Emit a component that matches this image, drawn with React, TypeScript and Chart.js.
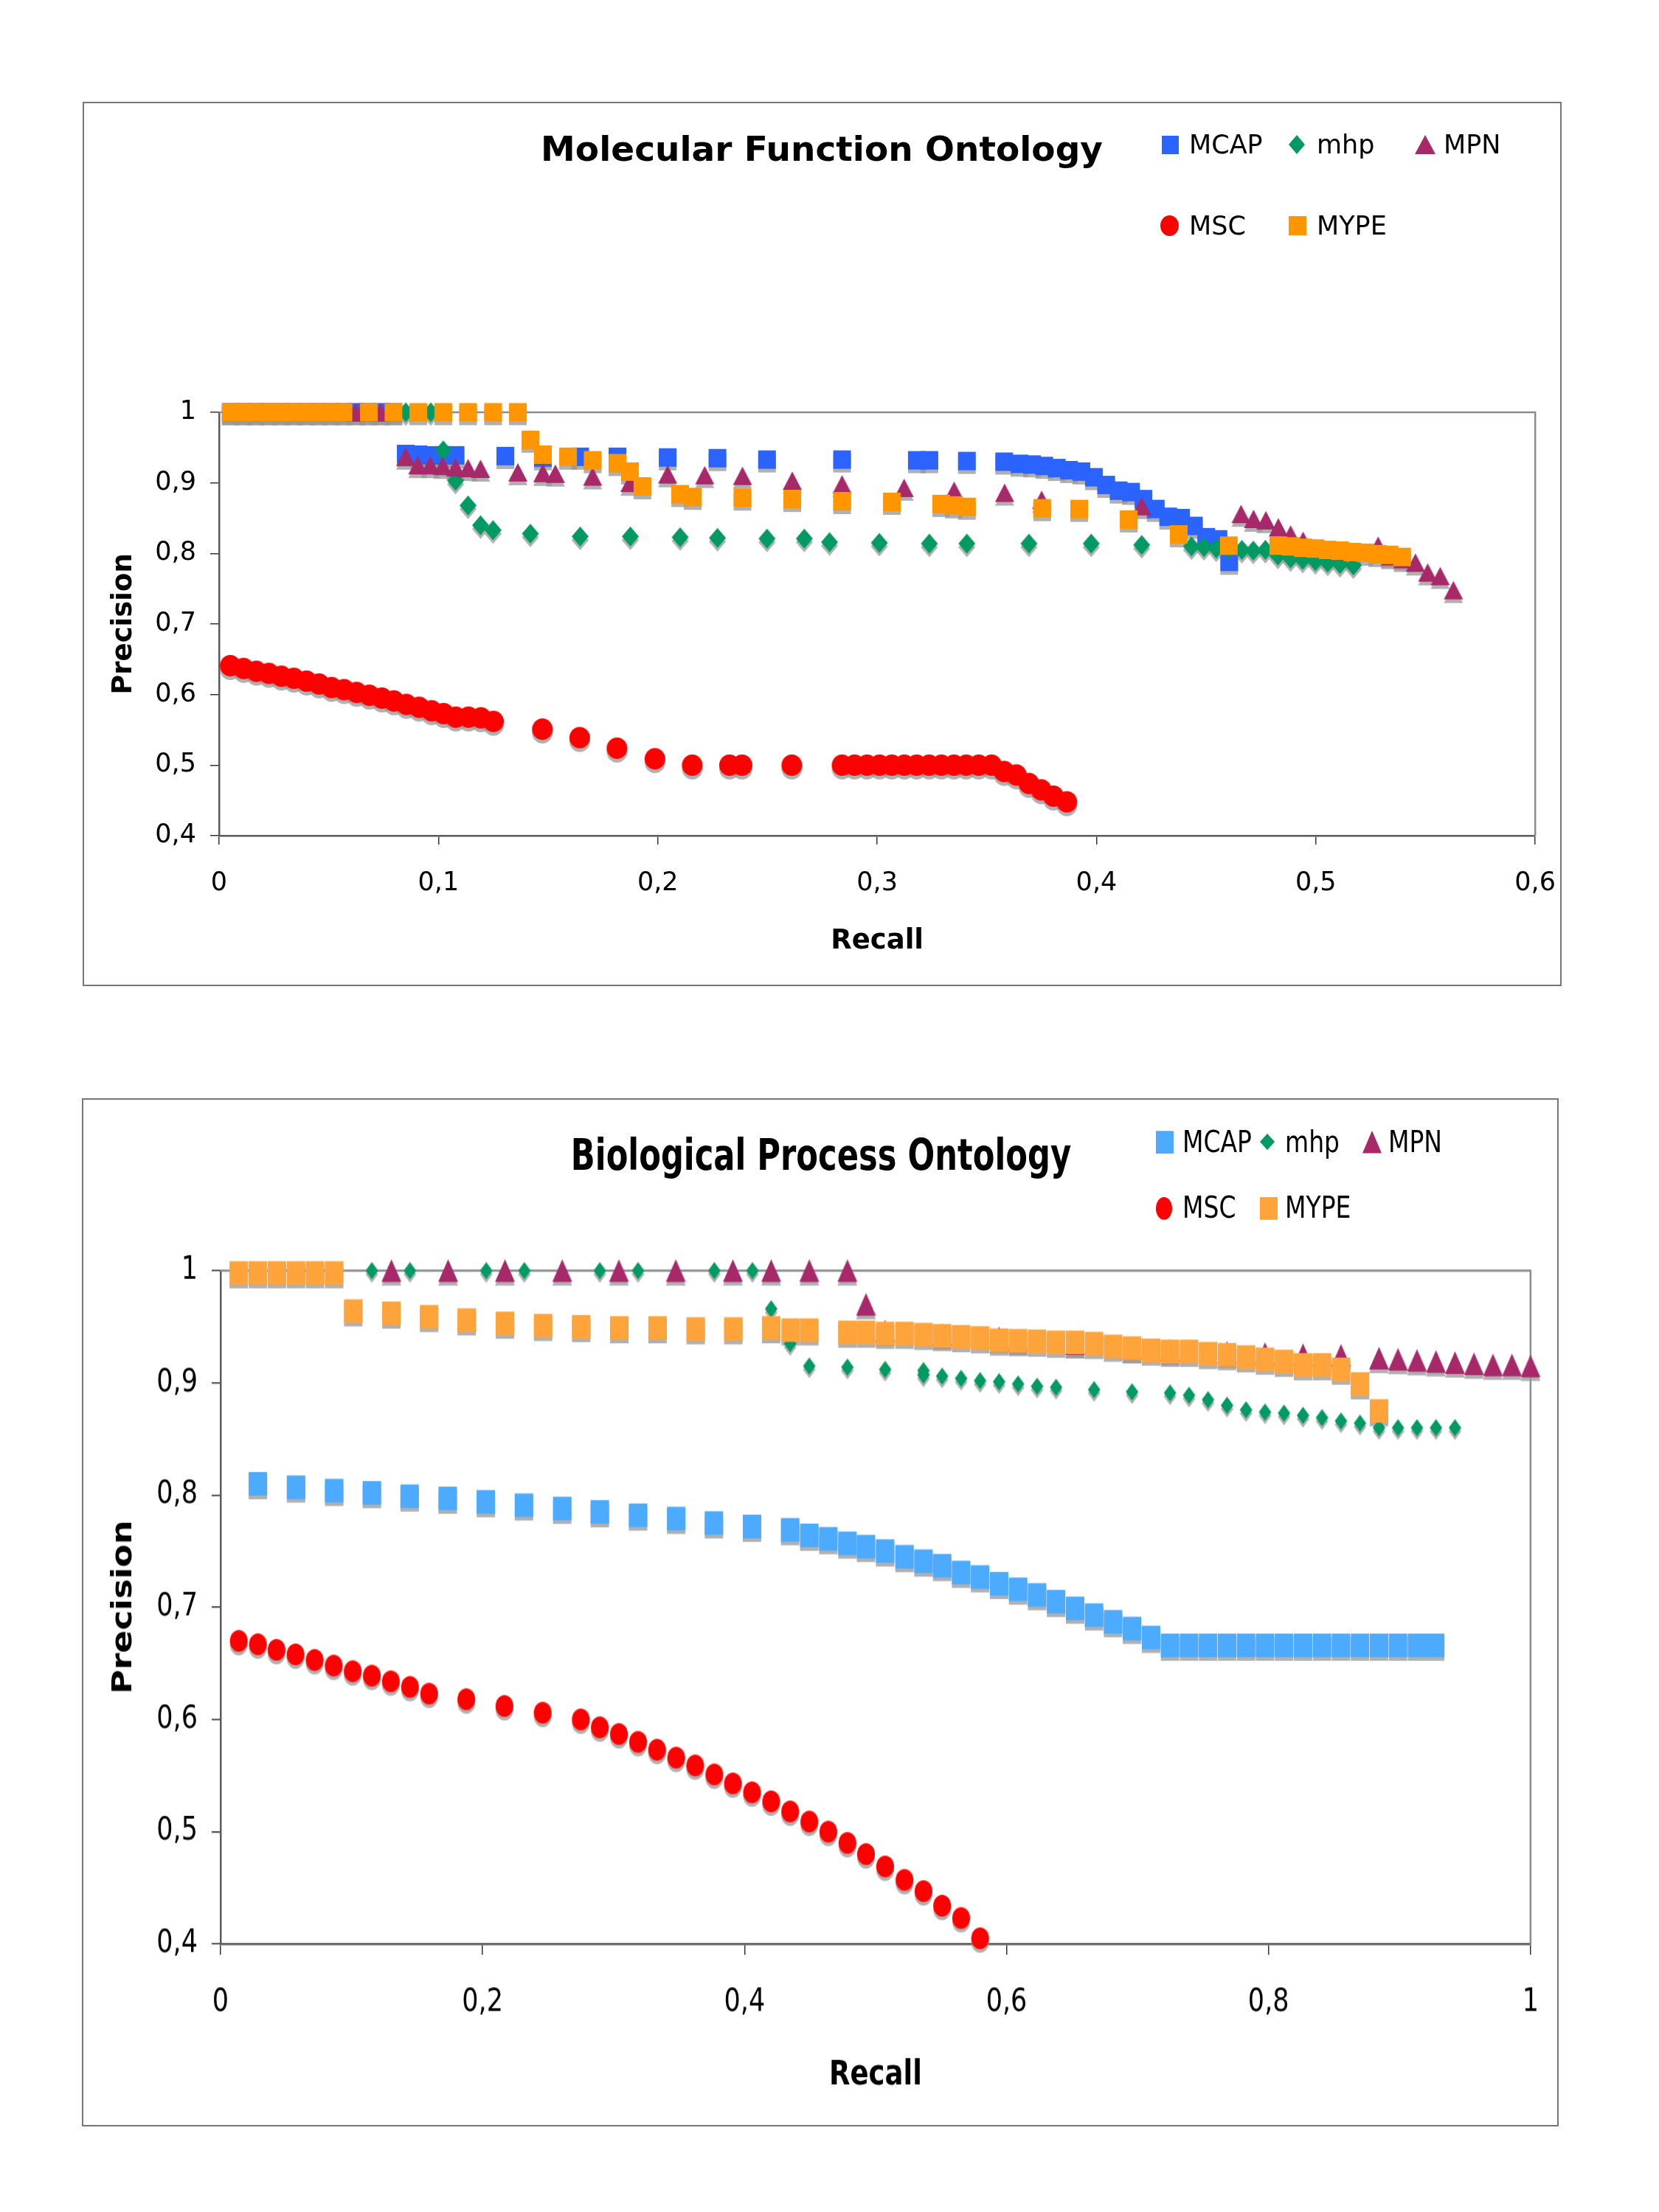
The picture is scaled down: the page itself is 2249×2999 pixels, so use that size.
import React, { useEffect, useRef } from "react";
import { Chart, registerables } from "chart.js";

Chart.register(...registerables);

const FONT = "'DejaVu Sans', Verdana, sans-serif";

// ---------- Molecular Function Ontology ----------
const mfMcapRecall = [0.0053, 0.011, 0.0168, 0.0225, 0.0282, 0.034, 0.0397, 0.0454, 0.0511, 0.0567, 0.0624, 0.068, 0.0737, 0.0794, 0.0851, 0.0908, 0.0966, 0.1022, 0.1078, 0.1305, 0.1476, 0.1646, 0.1816, 0.2045, 0.2272, 0.2498, 0.284, 0.3181, 0.3238, 0.3409, 0.3579, 0.3649, 0.3706, 0.3762, 0.3819, 0.3875, 0.3931, 0.3988, 0.4044, 0.4101, 0.4157, 0.4214, 0.427, 0.4327, 0.4385, 0.4444, 0.45, 0.4556, 0.4605];
const mfMcapPrecision = [1, 1, 1, 1, 1, 1, 1, 1, 1, 1, 1, 1, 1, 1, 0.941, 0.94, 0.939, 0.939, 0.939, 0.938, 0.936, 0.937, 0.937, 0.936, 0.935, 0.933, 0.933, 0.932, 0.932, 0.931, 0.93, 0.927, 0.926, 0.924, 0.921, 0.918, 0.916, 0.908, 0.897, 0.889, 0.887, 0.877, 0.863, 0.852, 0.85, 0.839, 0.823, 0.82, 0.788];

const mfMhpRecall = [0.0851, 0.0965, 0.1022, 0.1078, 0.1135, 0.1192, 0.1249, 0.1419, 0.1646, 0.1875, 0.2102, 0.2272, 0.2498, 0.2668, 0.2783, 0.301, 0.3238, 0.3409, 0.3692, 0.3976, 0.4206, 0.4433, 0.449, 0.4546, 0.4603, 0.4663, 0.4715, 0.477, 0.4827, 0.4885, 0.494, 0.4998, 0.5054, 0.511, 0.5171];
const mfMhpPrecision = [1, 1, 0.946, 0.903, 0.868, 0.84, 0.833, 0.828, 0.824, 0.824, 0.823, 0.822, 0.821, 0.821, 0.816, 0.815, 0.814, 0.814, 0.814, 0.814, 0.812, 0.81, 0.809, 0.807, 0.806, 0.805, 0.804, 0.805, 0.797, 0.793, 0.791, 0.789, 0.787, 0.785, 0.783];

const mfMpnRecall = [0.0624, 0.0736, 0.0851, 0.0906, 0.0963, 0.102, 0.1078, 0.1135, 0.1192, 0.1362, 0.1476, 0.1533, 0.1703, 0.1873, 0.2045, 0.2214, 0.2386, 0.2613, 0.284, 0.3123, 0.3351, 0.3581, 0.375, 0.4206, 0.4659, 0.4716, 0.4772, 0.4829, 0.4885, 0.4942, 0.5284, 0.534, 0.5397, 0.5454, 0.551, 0.5567, 0.5627];
const mfMpnPrecision = [1, 1, 0.937, 0.925, 0.925, 0.924, 0.922, 0.921, 0.92, 0.915, 0.914, 0.913, 0.909, 0.9, 0.912, 0.911, 0.91, 0.903, 0.898, 0.893, 0.889, 0.886, 0.876, 0.867, 0.856, 0.849, 0.847, 0.837, 0.827, 0.818, 0.811, 0.796, 0.792, 0.787, 0.773, 0.768, 0.748];

const mfMscRecall = [0.0051, 0.0112, 0.017, 0.0227, 0.0284, 0.0341, 0.0399, 0.0456, 0.0513, 0.057, 0.0627, 0.0685, 0.0742, 0.0797, 0.0854, 0.0912, 0.0969, 0.1024, 0.1079, 0.1137, 0.1194, 0.1251, 0.1474, 0.1644, 0.1814, 0.1987, 0.2157, 0.2327, 0.2384, 0.2611, 0.284, 0.2897, 0.2954, 0.3011, 0.3067, 0.3124, 0.318, 0.3237, 0.3293, 0.335, 0.3406, 0.3463, 0.3522, 0.3579, 0.3635, 0.3692, 0.3748, 0.3804, 0.3865];
const mfMscPrecision = [0.641, 0.637, 0.633, 0.63, 0.626, 0.623, 0.619, 0.615, 0.61, 0.607, 0.603, 0.599, 0.595, 0.591, 0.586, 0.582, 0.577, 0.573, 0.568, 0.568, 0.567, 0.562, 0.551, 0.539, 0.524, 0.509, 0.5, 0.5, 0.5, 0.5, 0.5, 0.5, 0.5, 0.5, 0.5, 0.5, 0.5, 0.5, 0.5, 0.5, 0.5, 0.5, 0.5, 0.491, 0.486, 0.474, 0.465, 0.456, 0.448];

const mfMypeRecall = [0.0053, 0.011, 0.0168, 0.0225, 0.0282, 0.034, 0.0397, 0.0454, 0.0511, 0.0567, 0.0683, 0.0795, 0.0908, 0.1022, 0.1135, 0.1249, 0.1362, 0.1419, 0.1476, 0.1591, 0.1703, 0.1816, 0.1873, 0.193, 0.2102, 0.2159, 0.2386, 0.2613, 0.284, 0.3067, 0.3292, 0.3349, 0.3409, 0.3752, 0.3921, 0.4147, 0.4375, 0.4603, 0.4829, 0.4885, 0.4942, 0.4998, 0.5054, 0.511, 0.5167, 0.5223, 0.528, 0.5336, 0.5393];
const mfMypePrecision = [1, 1, 1, 1, 1, 1, 1, 1, 1, 1, 1, 1, 1, 1, 1, 1, 1, 0.961, 0.94, 0.937, 0.932, 0.928, 0.916, 0.895, 0.884, 0.88, 0.879, 0.877, 0.874, 0.873, 0.87, 0.868, 0.866, 0.864, 0.863, 0.848, 0.827, 0.811, 0.811, 0.81, 0.808, 0.807, 0.805, 0.804, 0.802, 0.801, 0.799, 0.798, 0.795];

// ---------- Biological Process Ontology ----------
const bpMcapRecall = [0.0285, 0.0576, 0.0867, 0.1155, 0.1443, 0.1734, 0.2025, 0.2316, 0.2608, 0.2895, 0.3187, 0.3478, 0.3766, 0.4057, 0.4348, 0.4494, 0.4639, 0.4785, 0.4927, 0.5073, 0.5221, 0.5366, 0.5508, 0.5653, 0.5798, 0.5943, 0.6088, 0.6233, 0.6378, 0.6523, 0.6668, 0.6813, 0.6958, 0.7103, 0.7248, 0.7393, 0.7538, 0.7683, 0.7828, 0.7973, 0.8118, 0.8263, 0.8408, 0.8553, 0.8698, 0.8843, 0.8988, 0.9133, 0.9272];
const bpMcapPrecision = [0.81, 0.807, 0.804, 0.802, 0.799, 0.797, 0.794, 0.791, 0.788, 0.785, 0.782, 0.779, 0.775, 0.772, 0.769, 0.764, 0.761, 0.757, 0.754, 0.75, 0.745, 0.741, 0.737, 0.731, 0.727, 0.721, 0.716, 0.711, 0.705, 0.699, 0.693, 0.687, 0.681, 0.673, 0.666, 0.666, 0.666, 0.666, 0.666, 0.666, 0.666, 0.666, 0.666, 0.666, 0.666, 0.666, 0.666, 0.666, 0.666];

const bpMhpRecall = [0.1155, 0.1446, 0.2028, 0.2319, 0.2895, 0.3187, 0.3769, 0.406, 0.4203, 0.4348, 0.4494, 0.4785, 0.5073, 0.5366, 0.5366, 0.5508, 0.5653, 0.5798, 0.5943, 0.6088, 0.6233, 0.6378, 0.6668, 0.6958, 0.7248, 0.7393, 0.7538, 0.7683, 0.7828, 0.7973, 0.8118, 0.8263, 0.8408, 0.8553, 0.8698, 0.8843, 0.8988, 0.9133, 0.9278, 0.9423];
const bpMhpPrecision = [1, 1, 1, 1, 1, 1, 1, 1, 0.966, 0.935, 0.915, 0.914, 0.912, 0.911, 0.907, 0.906, 0.904, 0.902, 0.901, 0.899, 0.897, 0.896, 0.894, 0.892, 0.891, 0.889, 0.885, 0.88, 0.876, 0.874, 0.873, 0.871, 0.869, 0.866, 0.864, 0.86, 0.86, 0.86, 0.86, 0.86];

const bpMpnRecall = [0.1304, 0.1737, 0.2171, 0.2608, 0.3041, 0.3475, 0.3911, 0.4203, 0.4494, 0.4785, 0.4927, 0.5073, 0.5508, 0.5943, 0.6088, 0.6523, 0.6958, 0.7248, 0.7683, 0.7973, 0.8263, 0.8553, 0.8843, 0.8988, 0.9133, 0.9278, 0.9423, 0.9568, 0.9713, 0.9858, 1.0];
const bpMpnPrecision = [1, 1, 1, 1, 1, 1, 1, 1, 1, 1, 0.97, 0.946, 0.943, 0.94, 0.938, 0.935, 0.931, 0.929, 0.927, 0.926, 0.925, 0.9245, 0.922, 0.921, 0.92, 0.919, 0.918, 0.917, 0.916, 0.916, 0.915];

const bpMscRecall = [0.0139, 0.0285, 0.0427, 0.0572, 0.0718, 0.0864, 0.1009, 0.1155, 0.13, 0.1446, 0.1592, 0.1876, 0.2167, 0.2459, 0.275, 0.2895, 0.3041, 0.3187, 0.3332, 0.3478, 0.3623, 0.3769, 0.3911, 0.4057, 0.4203, 0.4348, 0.4494, 0.4639, 0.4785, 0.4927, 0.5073, 0.5221, 0.5366, 0.5508, 0.5653, 0.5798];
const bpMscPrecision = [0.67, 0.667, 0.662, 0.658, 0.653, 0.648, 0.643, 0.639, 0.634, 0.629, 0.623, 0.618, 0.612, 0.606, 0.6, 0.593, 0.587, 0.58, 0.573, 0.566, 0.559, 0.551, 0.543, 0.535, 0.527, 0.518, 0.509, 0.5, 0.49, 0.48, 0.469, 0.457, 0.447, 0.434, 0.423, 0.405];

const bpMypeRecall = [0.0139, 0.0285, 0.043, 0.0576, 0.0721, 0.0867, 0.1013, 0.1304, 0.1592, 0.1879, 0.2171, 0.2462, 0.2753, 0.3044, 0.3336, 0.3627, 0.3914, 0.4203, 0.4352, 0.4494, 0.4785, 0.4927, 0.5073, 0.5221, 0.5366, 0.5508, 0.5653, 0.5798, 0.5943, 0.6088, 0.6233, 0.6378, 0.6523, 0.6668, 0.6813, 0.6958, 0.7103, 0.7248, 0.7393, 0.7538, 0.7683, 0.7828, 0.7973, 0.8118, 0.8263, 0.8408, 0.8553, 0.8698, 0.8843];
const bpMypePrecision = [0.998, 0.998, 0.998, 0.998, 0.998, 0.998, 0.964, 0.962, 0.959, 0.956, 0.953, 0.951, 0.95, 0.949, 0.949, 0.948, 0.948, 0.949, 0.947, 0.947, 0.945, 0.945, 0.944, 0.944, 0.943, 0.942, 0.941, 0.94, 0.938, 0.9375, 0.937, 0.936, 0.936, 0.935, 0.9325, 0.931, 0.929, 0.928, 0.928, 0.926, 0.925, 0.923, 0.921, 0.919, 0.916, 0.916, 0.912, 0.899, 0.875];

// ---------- axes ----------
const precisionTicks = [0.4, 0.5, 0.6, 0.7, 0.8, 0.9, 1];
const mfRecallTicks = [0, 0.1, 0.2, 0.3, 0.4, 0.5, 0.6];
const bpRecallTicks = [0, 0.2, 0.4, 0.6, 0.8, 1];

type Shape = "square" | "diamond" | "triangle" | "circle";

interface Series {
  label: string;
  recall: number[];
  precision: number[];
  color: string;
  shape: Shape;
}

interface Size {
  w: number;
  h: number;
}

interface Slot {
  markerX: number;
  textX: number;
  cy: number;
  w: number;
  h: number;
}

interface PanelProps {
  title: string;
  series: Series[];
  xTicks: number[];
  xMax: number;
  box: { left: number; top: number; width: number; height: number };
  stretch: number;
  canvasW: number;
  canvasH: number;
  leftBand: number;
  topPad: number;
  rightPad: number;
  bottomBand: number;
  markers: Record<Shape, Size>;
  shadowDy: number;
  titleX: number;
  titleY: number;
  titleSize: number;
  titleScaleX: number;
  legendSize: number;
  legendSlots: Slot[];
  xTickPad: number;
  xTitlePad: number;
  yTitlePad: number;
}

function shapePath(ctx: CanvasRenderingContext2D, shape: Shape, cx: number, cy: number, w: number, h: number) {
  ctx.beginPath();
  if (shape === "square") {
    ctx.rect(cx - w / 2, cy - h / 2, w, h);
  } else if (shape === "circle") {
    ctx.ellipse(cx, cy, w / 2, h / 2, 0, 0, Math.PI * 2);
  } else if (shape === "diamond") {
    ctx.moveTo(cx, cy - h / 2);
    ctx.lineTo(cx + w / 2, cy);
    ctx.lineTo(cx, cy + h / 2);
    ctx.lineTo(cx - w / 2, cy);
    ctx.closePath();
  } else {
    ctx.moveTo(cx, cy - h / 2);
    ctx.lineTo(cx + w / 2, cy + h / 2);
    ctx.lineTo(cx - w / 2, cy + h / 2);
    ctx.closePath();
  }
}

function makeMarker(shape: Shape, color: string, w: number, h: number) {
  const c = document.createElement("canvas");
  c.width = Math.ceil(w) + 2;
  c.height = Math.ceil(h) + 2;
  const ctx = c.getContext("2d")!;
  ctx.fillStyle = color;
  shapePath(ctx, shape, c.width / 2, c.height / 2, w, h);
  ctx.fill();
  return c;
}

const commaTick = (v: number | string) => String(Math.round(Number(v) * 10) / 10).replace(".", ",");

const legendClip: Record<Shape, React.CSSProperties> = {
  square: {},
  circle: { borderRadius: "50%" },
  diamond: { clipPath: "polygon(50% 0, 100% 50%, 50% 100%, 0 50%)" },
  triangle: { clipPath: "polygon(50% 0, 100% 100%, 0 100%)" },
};

const Panel: React.FC<PanelProps> = (p) => {
  const chartRef = useRef<HTMLCanvasElement | null>(null);

  useEffect(() => {
    const ctx = chartRef.current?.getContext("2d");
    if (!ctx) return;

    const shadows: HTMLCanvasElement[] = [];
    const datasets = p.series.map((s, i) => {
      const size = p.markers[s.shape];
      shadows.push(makeMarker(s.shape, "rgba(150,150,150,0.75)", size.w, size.h));
      return {
        label: s.label,
        data: s.recall.map((r, j) => ({ x: r, y: s.precision[j] })),
        pointStyle: makeMarker(s.shape, s.color, size.w, size.h),
        pointRadius: size.w / 2,
        // later series are drawn on top, like the original
        order: p.series.length - i,
        clip: false,
        showLine: false,
      };
    });

    const framePlugin = {
      id: "excelFrame",
      beforeDatasetsDraw(chart: any) {
        const c = chart.ctx as CanvasRenderingContext2D;
        const a = chart.chartArea;
        c.save();
        c.strokeStyle = "#8c8c8c";
        c.lineWidth = 2.5;
        c.beginPath();
        c.moveTo(a.left, a.top);
        c.lineTo(a.right, a.top);
        c.lineTo(a.right, a.bottom);
        c.stroke();
        // all shadows first, so they never cover a neighbouring marker
        chart.getSortedVisibleDatasetMetas().forEach((meta: any) => {
          const img = shadows[meta.index];
          meta.data.forEach((el: any) => {
            c.drawImage(img, el.x - img.width / 2, el.y + p.shadowDy - img.height / 2);
          });
        });
        c.restore();
      },
    };

    const tickGrid = {
      display: true,
      drawOnChartArea: false,
      drawTicks: true,
      tickLength: 12,
      color: "#333",
      lineWidth: 1.5,
    };

    const chart = new Chart(ctx, {
      type: "scatter",
      data: { datasets: datasets as any },
      options: {
        animation: false,
        responsive: false,
        devicePixelRatio: 1,
        events: [],
        layout: { padding: { top: p.topPad, right: p.rightPad, left: 0, bottom: 0 } },
        plugins: {
          legend: { display: false },
          tooltip: { enabled: false },
          title: { display: false },
        },
        scales: {
          x: {
            type: "linear",
            min: 0,
            max: p.xMax,
            afterBuildTicks: (s: any) => {
              s.ticks = p.xTicks.map((v) => ({ value: v }));
            },
            afterFit: (s: any) => {
              s.height = p.bottomBand;
            },
            ticks: {
              callback: commaTick,
              font: { size: 35, family: FONT },
              color: "#000",
              padding: p.xTickPad,
              maxRotation: 0,
              autoSkip: false,
            },
            grid: tickGrid,
            border: { display: true, color: "#5a5a5a", width: 2.5 },
            title: {
              display: true,
              text: "Recall",
              color: "#000",
              font: { size: 37, weight: "bold", family: FONT },
              padding: { top: 0, bottom: p.xTitlePad },
            },
          },
          y: {
            type: "linear",
            min: 0.4,
            max: 1,
            afterBuildTicks: (s: any) => {
              s.ticks = precisionTicks.map((v) => ({ value: v }));
            },
            afterFit: (s: any) => {
              s.width = p.leftBand;
            },
            ticks: {
              callback: commaTick,
              font: { size: 35, family: FONT },
              color: "#000",
              padding: 19,
              autoSkip: false,
            },
            grid: tickGrid,
            border: { display: true, color: "#5a5a5a", width: 2.5 },
            title: {
              display: true,
              text: "Precision",
              color: "#000",
              font: { size: 37, weight: "bold", family: FONT },
              padding: { top: p.yTitlePad, bottom: 0 },
            },
          },
        },
      } as any,
      plugins: [framePlugin],
    });

    return () => {
      chart.destroy();
    };
  }, []);

  return (
    <>
      <div
        style={{
          position: "absolute",
          left: p.box.left,
          top: p.box.top,
          width: p.box.width,
          height: p.box.height,
          border: "2px solid #777",
          boxSizing: "border-box",
        }}
      />
      <div
        style={{
          position: "absolute",
          left: p.box.left,
          top: p.box.top,
          width: p.canvasW,
          height: p.canvasH,
          transform: `scaleY(${p.stretch})`,
          transformOrigin: "0 0",
        }}
      >
        <canvas
          ref={chartRef}
          width={p.canvasW}
          height={p.canvasH}
          style={{ display: "block", width: p.canvasW, height: p.canvasH }}
        />
        <div
          style={{
            position: "absolute",
            left: p.titleX,
            top: p.titleY - p.titleSize * 0.6,
            transform: `translateX(-50%) scaleX(${p.titleScaleX})`,
            fontSize: p.titleSize,
            lineHeight: 1.2,
            fontWeight: "bold",
            whiteSpace: "nowrap",
            color: "#000",
          }}
        >
          {p.title}
        </div>
        {p.series.map((s, i) => {
          const slot = p.legendSlots[i];
          return (
            <React.Fragment key={s.label}>
              <div
                style={{
                  position: "absolute",
                  left: slot.markerX,
                  top: slot.cy - slot.h / 2,
                  width: slot.w,
                  height: slot.h,
                  background: s.color,
                  ...legendClip[s.shape],
                }}
              />
              <div
                style={{
                  position: "absolute",
                  left: slot.textX,
                  top: slot.cy - p.legendSize * 0.6,
                  fontSize: p.legendSize,
                  lineHeight: 1.2,
                  whiteSpace: "nowrap",
                  color: "#000",
                }}
              >
                {s.label}
              </div>
            </React.Fragment>
          );
        })}
      </div>
    </>
  );
};

const mfSeries: Series[] = [
  { label: "MCAP", recall: mfMcapRecall, precision: mfMcapPrecision, color: "#2b63ff", shape: "square" },
  { label: "mhp", recall: mfMhpRecall, precision: mfMhpPrecision, color: "#009a62", shape: "diamond" },
  { label: "MPN", recall: mfMpnRecall, precision: mfMpnPrecision, color: "#a8296a", shape: "triangle" },
  { label: "MSC", recall: mfMscRecall, precision: mfMscPrecision, color: "#ff0000", shape: "circle" },
  { label: "MYPE", recall: mfMypeRecall, precision: mfMypePrecision, color: "#ff9600", shape: "square" },
];

const bpSeries: Series[] = [
  { label: "MCAP", recall: bpMcapRecall, precision: bpMcapPrecision, color: "#4dabff", shape: "square" },
  { label: "mhp", recall: bpMhpRecall, precision: bpMhpPrecision, color: "#009a62", shape: "diamond" },
  { label: "MPN", recall: bpMpnRecall, precision: bpMpnPrecision, color: "#a8296a", shape: "triangle" },
  { label: "MSC", recall: bpMscRecall, precision: bpMscPrecision, color: "#ff0000", shape: "circle" },
  { label: "MYPE", recall: bpMypeRecall, precision: bpMypePrecision, color: "#ffa43a", shape: "square" },
];

const App: React.FC = () => {
  return (
    <div
      style={{
        position: "absolute",
        left: 0,
        top: 0,
        width: 2249,
        height: 2999,
        background: "#fff",
        fontFamily: FONT,
      }}
    >
      <Panel
        title="Molecular Function Ontology"
        series={mfSeries}
        xTicks={mfRecallTicks}
        xMax={0.6}
        box={{ left: 112, top: 138, width: 2005, height: 1199 }}
        stretch={1}
        canvasW={2029}
        canvasH={1199}
        leftBand={185}
        topPad={421}
        rightPad={32}
        bottomBand={204}
        markers={{
          square: { w: 24, h: 25 },
          diamond: { w: 23, h: 27 },
          triangle: { w: 26, h: 25 },
          circle: { w: 28, h: 29 },
        }}
        shadowDy={5}
        titleX={1002}
        titleY={64}
        titleSize={47}
        titleScaleX={1}
        legendSize={35}
        legendSlots={[
          { markerX: 1463, textX: 1500, cy: 58, w: 23, h: 25 },
          { markerX: 1635, textX: 1673, cy: 58, w: 22, h: 26 },
          { markerX: 1806, textX: 1845, cy: 58, w: 28, h: 26 },
          { markerX: 1461, textX: 1500, cy: 168, w: 25, h: 28 },
          { markerX: 1635, textX: 1673, cy: 168, w: 24, h: 26 },
        ]}
        xTickPad={32}
        xTitlePad={38}
        yTitlePad={34}
      />
      <Panel
        title="Biological Process Ontology"
        series={bpSeries}
        xTicks={bpRecallTicks}
        xMax={1}
        box={{ left: 111, top: 1489, width: 2002, height: 1394 }}
        stretch={1.23}
        canvasW={2007}
        canvasH={1133}
        leftBand={188}
        topPad={190}
        rightPad={35}
        bottomBand={201}
        markers={{
          square: { w: 25, h: 26 },
          diamond: { w: 17, h: 19 },
          triangle: { w: 27, h: 25 },
          circle: { w: 24, h: 24 },
        }}
        shadowDy={4}
        titleX={1002}
        titleY={63}
        titleSize={47}
        titleScaleX={0.92}
        legendSize={33}
        legendSlots={[
          { markerX: 1456, textX: 1492, cy: 48, w: 24, h: 25 },
          { markerX: 1597, textX: 1631, cy: 48, w: 20, h: 18 },
          { markerX: 1736, textX: 1771, cy: 48, w: 26, h: 25 },
          { markerX: 1456, textX: 1492, cy: 121, w: 22, h: 25 },
          { markerX: 1597, textX: 1631, cy: 121, w: 24, h: 25 },
        ]}
        xTickPad={32}
        xTitlePad={33}
        yTitlePad={35}
      />
    </div>
  );
};

export default App;
